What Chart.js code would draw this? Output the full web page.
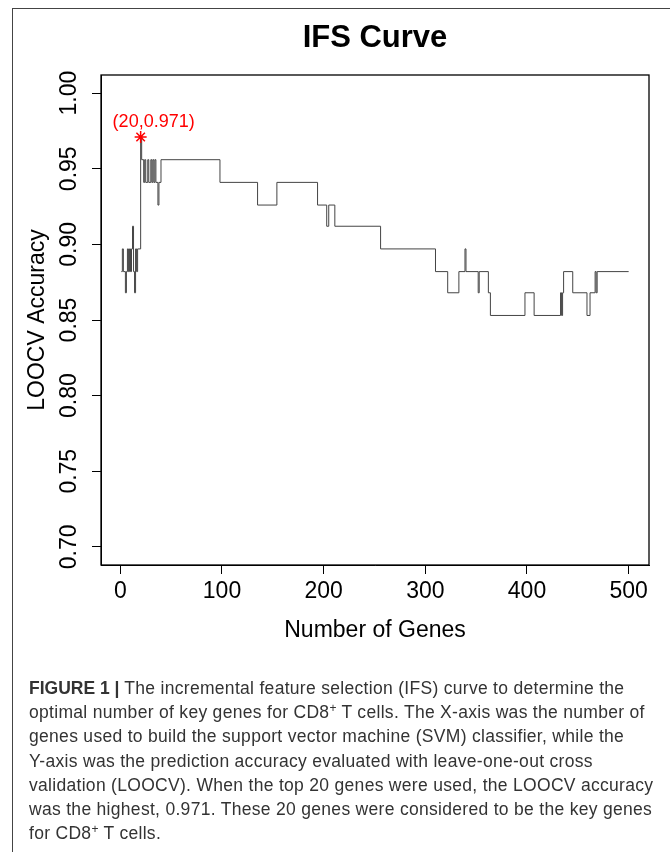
<!DOCTYPE html>
<html>
<head>
<meta charset="utf-8">
<script src="https://cdn.jsdelivr.net/npm/chart.js@4"></script>
<style>
  html, body { margin: 0; padding: 0; background: #fff; }
  #wrap { position: relative; width: 670px; height: 852px; overflow: hidden; }
  #frame { position: absolute; left: 12px; top: 8px; width: 700px; height: 900px;
           border-top: 1.5px solid #444; border-left: 1.5px solid #444; }
  #ifs { position: absolute; left: 0; top: 0; }
  #caption { position: absolute; left: 29px; top: 676px; font-family: "Liberation Sans", Arial, sans-serif;
             font-size: 17.5px; letter-spacing: 0.3px; line-height: 24.2px; color: #333; white-space: nowrap; }
  #caption b { color: #333; letter-spacing: 0; }
  #caption sup { font-size: 12px; line-height: 0; vertical-align: 6px; }
</style>
</head>
<body>
<div id="wrap">
  <canvas id="ifs" width="670" height="660"></canvas>
  <div id="frame"></div>
  <div id="caption">
    <b>FIGURE 1 |</b> The incremental feature selection (IFS) curve to determine the<br>
    optimal number of key genes for CD8<sup>+</sup> T cells. The X-axis was the number of<br>
    genes used to build the support vector machine (SVM) classifier, while the<br>
    Y-axis was the prediction accuracy evaluated with leave-one-out cross<br>
    validation (LOOCV). When the top 20 genes were used, the LOOCV accuracy<br>
    was the highest, 0.971. These 20 genes were considered to be the key genes<br>
    for CD8<sup>+</sup> T cells.
  </div>
</div>
<script>
// numero di geni dove cambia l'accuratezza (curva a gradini)
var genes = [1, 2, 3, 5, 6, 7, 8, 9, 10, 11, 12, 13, 14, 15, 16, 17, 20, 21, 23, 24,
  25, 27, 28, 30, 31, 32, 33, 34, 35, 37, 38, 40, 98, 135, 154, 194, 203, 205, 211, 256,
  310, 322, 333, 339, 340, 352, 353, 362, 364, 398, 407, 433, 434, 435, 436, 445, 459, 462,
  467, 468, 469, 500];
var accuracy = [0.882, 0.897, 0.882, 0.868, 0.882, 0.897, 0.882, 0.897, 0.882, 0.897,
  0.912, 0.882, 0.868, 0.897, 0.882, 0.897, 0.971, 0.956, 0.941, 0.956,
  0.941, 0.956, 0.941, 0.956, 0.941, 0.956, 0.941, 0.956, 0.941, 0.926, 0.941, 0.956,
  0.941, 0.926, 0.941, 0.926, 0.912, 0.926, 0.912, 0.897,
  0.882, 0.868, 0.882, 0.897, 0.882, 0.868, 0.882, 0.868, 0.853, 0.868, 0.853,
  0.868, 0.853, 0.868, 0.882, 0.868, 0.853, 0.868, 0.882, 0.868, 0.882, 0.882];

var peakGene = 20;
var peakAcc = 0.971;

var xTicks = [0, 100, 200, 300, 400, 500];
var yTicks = [0.70, 0.75, 0.80, 0.85, 0.90, 0.95, 1.00];

var fontFam = "'Liberation Sans', Arial, sans-serif";

// disegna riquadro, titolo, etichette asse y ed etichetta del massimo
var extras = {
  id: 'extras',
  afterDraw: function (chart) {
    var ctx = chart.ctx;
    var a = chart.chartArea;
    var xs = chart.scales.x, ys = chart.scales.y;
    ctx.save();
    // box
    ctx.strokeStyle = '#000';
    ctx.lineWidth = 1.3;
    ctx.strokeRect(a.left, a.top, a.right - a.left, a.bottom - a.top);
    // titolo
    ctx.fillStyle = '#000';
    ctx.font = 'bold 31px ' + fontFam;
    ctx.textAlign = 'center';
    ctx.textBaseline = 'middle';
    ctx.fillText('IFS Curve', (a.left + a.right) / 2, 38);
    // etichette y ruotate
    ctx.font = '23px ' + fontFam;
    yTicks.forEach(function (v) {
      ctx.save();
      ctx.translate(70, ys.getPixelForValue(v));
      ctx.rotate(-Math.PI / 2);
      ctx.fillText(v.toFixed(2), 0, 0);
      ctx.restore();
    });
    // etichetta rossa
    ctx.fillStyle = '#f00';
    ctx.font = '18px ' + fontFam;
    ctx.fillText('(' + peakGene + ',' + peakAcc + ')',
      xs.getPixelForValue(peakGene) + 13, ys.getPixelForValue(peakAcc) - 15);
    ctx.restore();
  }
};

var ctx = document.getElementById('ifs').getContext('2d');
var ifsChart = new Chart(ctx, {
  type: 'line',
  data: {
    datasets: [
      {
        label: 'peak',
        data: [{ x: peakGene, y: peakAcc }],
        showLine: false,
        pointStyle: 'star',
        pointRadius: 6,
        borderColor: '#f00',
        backgroundColor: '#f00',
        borderWidth: 1.5
      },
      {
        label: 'IFS',
        data: genes.map(function (g, i) { return { x: g, y: accuracy[i] }; }),
        stepped: 'before',
        borderColor: '#444',
        borderWidth: 1,
        pointRadius: 0,
        fill: false
      }
    ]
  },
  options: {
    responsive: false,
    animation: false,
    layout: { padding: { top: 75, right: 21, left: 0, bottom: 0 } },
    plugins: { legend: { display: false }, title: { display: false }, tooltip: { enabled: false } },
    scales: {
      x: {
        type: 'linear',
        min: -19,
        max: 520,
        afterBuildTicks: function (scale) { scale.ticks = xTicks.map(function (v) { return { value: v }; }); },
        afterFit: function (scale) { scale.height = 95; },
        ticks: { color: '#000', font: { family: fontFam, size: 23 }, padding: 4, maxRotation: 0,
          callback: function (v) { return String(v); } },
        grid: { drawOnChartArea: false, drawTicks: true, tickLength: 9, color: '#000', lineWidth: 1 },
        border: { display: true, color: '#000', width: 1 },
        title: { display: true, text: 'Number of Genes', color: '#000',
          font: { family: fontFam, size: 23 }, padding: { top: 0, bottom: 16 } }
      },
      y: {
        type: 'linear',
        min: 0.688,
        max: 1.012,
        afterBuildTicks: function (scale) { scale.ticks = yTicks.map(function (v) { return { value: v }; }); },
        afterFit: function (scale) { scale.width = 101; },
        ticks: { display: false },
        grid: { drawOnChartArea: false, drawTicks: true, tickLength: 9, color: '#000', lineWidth: 1 },
        border: { display: true, color: '#000', width: 1 },
        title: { display: true, text: 'LOOCV Accuracy', color: '#000',
          font: { family: fontFam, size: 23 }, padding: { top: 24, bottom: 0 } }
      }
    }
  },
  plugins: [extras]
});
</script>
</body>
</html>
